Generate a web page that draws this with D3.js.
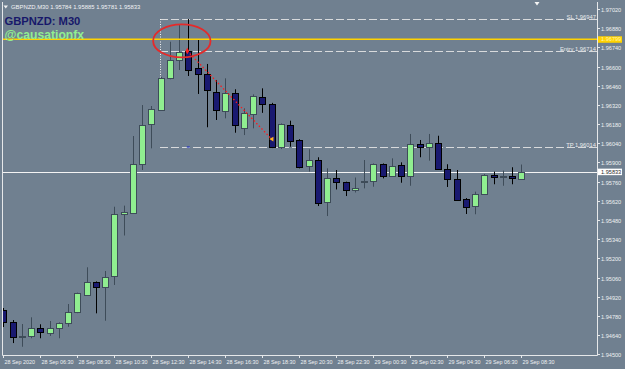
<!DOCTYPE html>
<html lang="en">
<head>
<meta charset="UTF-8">
<title>GBPNZD M30</title>
<style>
  html, body { margin: 0; padding: 0; background: #708090; }
  svg { display: block; }
  text { font-family: "Liberation Sans", Arial, sans-serif; }
</style>
</head>
<body>
<div id="chart"></div>
<script src="https://d3js.org/d3.v7.min.js"></script>
<script>
// OHLC of the 30 minute bars, first bar is 28 Sep 04:30
const opens  = [1.94823,1.94738,1.94630,1.94634,1.94690,1.94661,1.94697,1.94731,1.94807,1.94938,
                1.95030,1.94995,1.95071,1.95522,1.95533,1.95884,1.96176,1.96283,1.96514,1.96648,
                1.96716,1.96587,1.96546,1.96416,1.96276,1.96405,1.96149,1.96259,1.96381,1.96327,
                1.96014,1.96173,1.96064,1.95872,1.95918,1.95614,1.95787,1.95755,1.95699,1.95757,
                1.95765,1.95889,1.95803,1.95882,1.95803,1.96035,1.96015,1.96044,1.95852,1.95777,
                1.95633,1.95582,1.95670,1.95809,1.95797,1.95801,1.95784];
const highs  = [1.94838,1.94750,1.94721,1.94770,1.94719,1.94743,1.94733,1.94867,1.94950,1.95135,
                1.95032,1.95108,1.95577,1.95585,1.96093,1.96319,1.96312,1.96525,1.96781,1.96903,
                1.96947,1.96799,1.96619,1.96502,1.96514,1.96434,1.96295,1.96397,1.96441,1.96335,
                1.96185,1.96205,1.96070,1.95996,1.95938,1.95857,1.95845,1.95760,1.95790,1.95918,
                1.95893,1.95893,1.95930,1.95901,1.96108,1.96064,1.96108,1.96095,1.95887,1.95845,
                1.95640,1.95687,1.95816,1.95833,1.95840,1.95865,1.95885];
const lows   = [1.94699,1.94582,1.94555,1.94617,1.94617,1.94634,1.94617,1.94701,1.94800,1.94926,
                1.94799,1.94745,1.95006,1.95367,1.95530,1.95845,1.96003,1.96280,1.96507,1.96575,
                1.96531,1.96400,1.96157,1.96210,1.96222,1.96117,1.96100,1.96149,1.96262,1.96005,
                1.95998,1.96015,1.95857,1.95833,1.95582,1.95509,1.95703,1.95655,1.95681,1.95711,
                1.95723,1.95784,1.95798,1.95752,1.95730,1.95938,1.95913,1.95850,1.95721,1.95619,
                1.95524,1.95522,1.95665,1.95741,1.95730,1.95741,1.95781];
const closes = [1.94738,1.94628,1.94630,1.94690,1.94661,1.94694,1.94731,1.94811,1.94945,1.95030,
                1.94993,1.95066,1.95522,1.95536,1.95889,1.96171,1.96288,1.96519,1.96648,1.96708,
                1.96580,1.96546,1.96427,1.96283,1.96409,1.96168,1.96259,1.96387,1.96329,1.96012,
                1.96179,1.96059,1.95865,1.95918,1.95602,1.95787,1.95755,1.95697,1.95717,1.95767,
                1.95889,1.95803,1.95876,1.95803,1.96035,1.96011,1.96044,1.95857,1.95777,1.95626,
                1.95577,1.95670,1.95809,1.95796,1.95800,1.95784,1.95833];

// time axis labels (bar index -> label)
const timeTickBars   = [0,4,8,12,16,20,24,28,32,36,40,44,48,52,56];
const timeTickLabels = ["28 Sep 2020","28 Sep 06:30","28 Sep 08:30","28 Sep 10:30","28 Sep 12:30",
                        "28 Sep 14:30","28 Sep 16:30","28 Sep 18:30","28 Sep 20:30","28 Sep 22:30",
                        "29 Sep 00:30","29 Sep 02:30","29 Sep 04:30","29 Sep 06:30","29 Sep 08:30"];
const priceTicks = [1.94500,1.94640,1.94780,1.94920,1.95060,1.95200,1.95340,1.95480,1.95620,1.95760,
                    1.95900,1.96040,1.96180,1.96320,1.96460,1.96600,1.96740,1.96880,1.97020];

// trade levels
const levelNames  = ["SL","Entry","TP"];
const levelPrices = [1.96947,1.96714,1.96014];
const yellowLevel = 1.96799;
const lastPrice   = 1.95833;
const tradeBars   = [20, 29];
const tradePrices = [1.96714, 1.96071];
const header = "GBPNZD,M30  1.95784 1.95885 1.95781 1.95833";

const width = 625, height = 369;
const plot = { left: 2, right: 597, top: 2, bottom: 355 };

const svg = d3.select("#chart").append("svg")
  .attr("width", width).attr("height", height);

svg.append("rect").attr("width", width).attr("height", height).attr("fill", "#708090");

const x = d3.scaleLinear().domain([0, 56]).range([3.3, 521.3]);
const y = d3.scaleLinear().domain([1.94500, 1.97020]).range([354.3, 9]);
const px = v => Math.round(v) + 0.5;

svg.append("clipPath").attr("id", "clip")
  .append("rect")
  .attr("x", plot.left + 1).attr("y", plot.top)
  .attr("width", plot.right - plot.left - 1).attr("height", plot.bottom - plot.top);

const g = svg.append("g").attr("clip-path", "url(#clip)");

// last price line (behind candles)
g.append("line")
  .attr("x1", plot.left).attr("x2", plot.right)
  .attr("y1", px(y(lastPrice))).attr("y2", px(y(lastPrice)))
  .attr("stroke", "#f4f4f4").attr("stroke-width", 1);

// trade levels
levelPrices.forEach((p, k) => {
  const yy = px(y(p));
  g.append("line")
    .attr("x1", 160).attr("x2", plot.right)
    .attr("y1", yy).attr("y2", yy)
    .attr("stroke", "#d8dadc").attr("stroke-width", 1)
    .attr("stroke-dasharray", "8,3");
  svg.append("text")
    .attr("x", plot.right - 1).attr("y", yy - 1)
    .attr("text-anchor", "end")
    .attr("font-size", 5.8).attr("fill", "#e8eaec")
    .text(levelNames[k] + " " + p.toFixed(5));
});

// vertical dotted marker
g.append("line")
  .attr("x1", 160.5).attr("x2", 160.5)
  .attr("y1", y(levelPrices[0])).attr("y2", 79)
  .attr("stroke", "#f0f0f0").attr("stroke-width", 1)
  .attr("stroke-dasharray", "1,1.5");

// candles
const idx = d3.range(opens.length);
const bull = i => closes[i] >= opens[i];
const wickColor = i => bull(i) ? "#3e4c59" : "#000000";

g.selectAll(".wick").data(idx).enter().append("line")
  .attr("class", "wick")
  .attr("x1", i => px(x(i))).attr("x2", i => px(x(i)))
  .attr("y1", i => y(highs[i])).attr("y2", i => y(lows[i]))
  .attr("stroke", wickColor).attr("stroke-width", 1);

g.selectAll(".body").data(idx).enter().append("rect")
  .attr("class", "body")
  .attr("x", i => Math.round(x(i)) - 2.5)
  .attr("y", i => Math.round(y(Math.max(opens[i], closes[i]))) + 0.5)
  .attr("width", 6)
  .attr("height", i => Math.max(1, Math.round(Math.abs(y(opens[i]) - y(closes[i])))))
  .attr("fill", i => bull(i) ? "#90ee90" : "#191970")
  .attr("stroke", wickColor).attr("stroke-width", 1);

// yellow horizontal line
g.append("line")
  .attr("x1", plot.left).attr("x2", plot.right)
  .attr("y1", y(yellowLevel)).attr("y2", y(yellowLevel))
  .attr("stroke", "#ffd200").attr("stroke-width", 1.6);

// trade dotted line
g.append("line")
  .attr("x1", x(tradeBars[0]) - 1).attr("y1", y(tradePrices[0]))
  .attr("x2", x(tradeBars[1])).attr("y2", y(tradePrices[1]))
  .attr("stroke", "#ff1a1a").attr("stroke-width", 1.3)
  .attr("stroke-dasharray", "1.5,2.2");
g.append("path")
  .attr("d", d3.symbol(d3.symbolDiamond, 12)())
  .attr("transform", `translate(${x(tradeBars[0]) - 1},${y(tradePrices[0])})`)
  .attr("fill", "#ff2020");
g.append("path")
  .attr("d", d3.symbol(d3.symbolTriangle, 10)())
  .attr("transform", `translate(${x(tradeBars[1]) + 0.5},${y(tradePrices[1])}) rotate(-90)`)
  .attr("fill", "#ffb020");
g.append("line")
  .attr("x1", x(tradeBars[0]) - 1.5).attr("x2", x(tradeBars[0]) + 1.5)
  .attr("y1", px(y(levelPrices[2])) - 0.5).attr("y2", px(y(levelPrices[2])) - 0.5)
  .attr("stroke", "#2030c0").attr("stroke-width", 1.2);

// red ellipse
svg.append("ellipse")
  .attr("cx", x(19.3)).attr("cy", y(1.96787))
  .attr("rx", 28.7).attr("ry", 16.5)
  .attr("fill", "none").attr("stroke", "#e52a2a").attr("stroke-width", 1.8);

// frame
svg.append("path")
  .attr("d", `M${plot.left + 0.5},${plot.top}V${plot.bottom + 0.5}H${plot.right + 0.5}V${plot.top}`)
  .attr("fill", "none").attr("stroke", "#e6e8ea").attr("stroke-width", 1);

// price axis
const yAxis = svg.append("g");
priceTicks.forEach(p => {
  const yy = px(y(p));
  yAxis.append("line")
    .attr("x1", plot.right).attr("x2", plot.right + 3)
    .attr("y1", yy).attr("y2", yy)
    .attr("stroke", "#e6e8ea");
  yAxis.append("text")
    .attr("x", plot.right + 4).attr("y", yy + 2)
    .attr("font-size", 5.6).attr("fill", "#eef0f2")
    .text(p.toFixed(5));
});

// time axis
const xAxis = svg.append("g");
timeTickBars.forEach((b, k) => {
  const xx = px(x(b));
  xAxis.append("line")
    .attr("x1", xx).attr("x2", xx)
    .attr("y1", plot.bottom).attr("y2", plot.bottom + 3)
    .attr("stroke", "#e6e8ea");
  xAxis.append("text")
    .attr("x", xx + 1).attr("y", plot.bottom + 8.5)
    .attr("font-size", 5.4).attr("fill", "#eef0f2")
    .text(timeTickLabels[k]);
});

// price labels on axis
function priceTag(p, bg, fg) {
  const yy = y(p);
  svg.append("rect")
    .attr("x", plot.right + 1).attr("y", yy - 3)
    .attr("width", 24).attr("height", 6.5)
    .attr("fill", bg);
  svg.append("text")
    .attr("x", plot.right + 4).attr("y", yy + 2)
    .attr("font-size", 5.6).attr("fill", fg)
    .text(p.toFixed(5));
}
priceTag(yellowLevel, "#ffd200", "#fff6b0");
priceTag(lastPrice, "#ffffff", "#2a2a2a");

// header
svg.append("path")
  .attr("d", "M3.5,5.5 L8,5.5 L5.75,8.5 Z")
  .attr("fill", "#f0f0f0");
svg.append("text")
  .attr("x", 11).attr("y", 9)
  .attr("font-size", 5.9).attr("fill", "#f0f2f4")
  .text(header);
svg.append("path")
  .attr("d", "M534.5,2 L539.5,2 L537,5.5 Z")
  .attr("fill", "#f4f4f4");

// watermark texts
svg.append("text")
  .attr("x", 4.5).attr("y", 24.7)
  .attr("font-size", 11.2).attr("font-weight", "bold")
  .attr("fill", "#17186a")
  .text("GBPNZD: M30");
svg.append("text")
  .attr("x", 4.5).attr("y", 38.5)
  .attr("font-size", 12.2).attr("font-weight", "bold")
  .attr("fill", "#90ee90")
  .text("@causationfx");
</script>
</body>
</html>
